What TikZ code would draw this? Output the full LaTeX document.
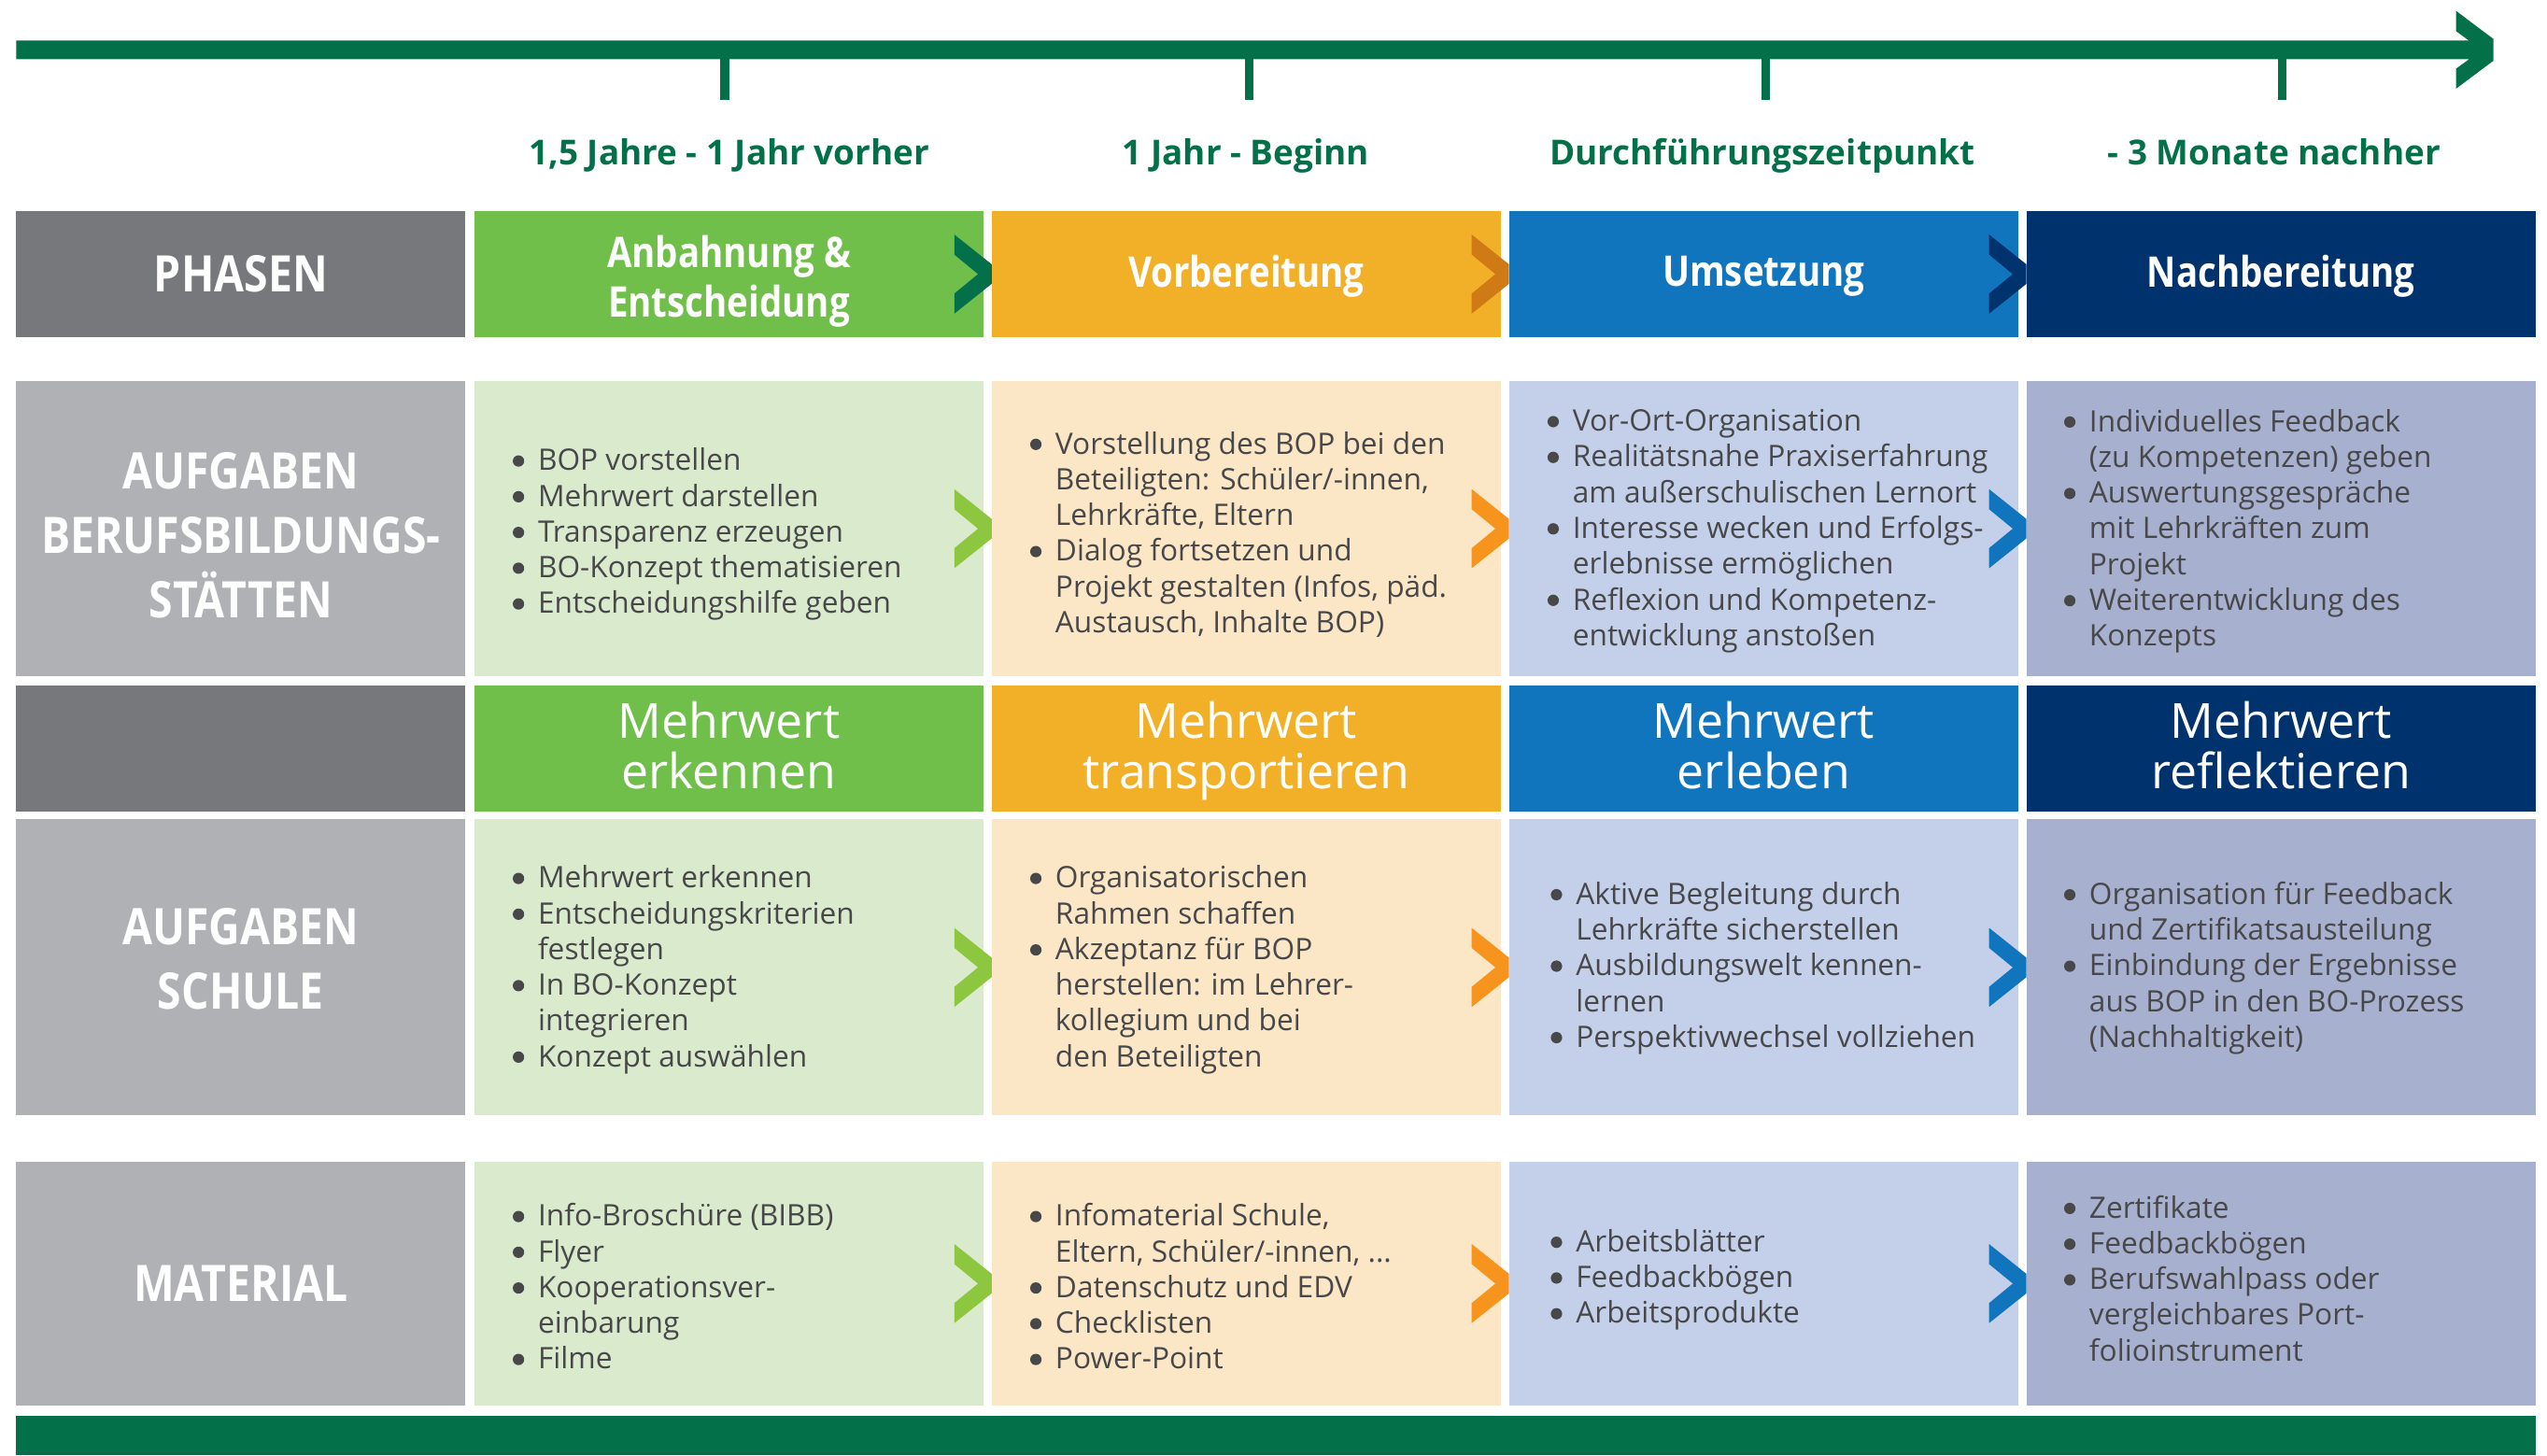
\documentclass[tikz,border=0pt]{standalone}
\usepackage{fontspec}
\setmainfont{Open Sans}
\newfontfamily\condf{Open Sans}[FakeStretch=0.86]
\newfontfamily\phasef{Open Sans}[FakeStretch=0.85]
\definecolor{tlgreen}{HTML}{04704A}
\definecolor{dgray}{HTML}{77787B}
\definecolor{lgray}{HTML}{B0B1B5}
\definecolor{cgreen}{HTML}{70BF4B}
\definecolor{lgreen}{HTML}{DAEACD}
\definecolor{corange}{HTML}{F2B028}
\definecolor{lorange}{HTML}{FBE7C6}
\definecolor{cblue}{HTML}{1175BD}
\definecolor{lblue}{HTML}{C4D0EA}
\definecolor{cnavy}{HTML}{00336D}
\definecolor{lnavy}{HTML}{A7B0CE}
\definecolor{chdorange}{HTML}{D07A15}
\definecolor{chgreen}{HTML}{8DC63F}
\definecolor{chorange}{HTML}{F7941D}
\definecolor{txtgray}{HTML}{48484B}
\newcommand{\bu}{\makebox[13pt][l]{\hspace*{-2.5pt}\raisebox{2.4pt}{\tikz\fill[txtgray] (0pt,0pt) circle[radius=3.5pt];}}}
\newcommand{\ci}{\hspace*{13pt}}
\tikzset{
  box/.style={draw=none, inner sep=0pt, outer sep=0pt, minimum width=313.5pt},
  lbox/.style={draw=none, inner sep=0pt, outer sep=0pt, minimum width=276.5pt},
  lbl/.style={text=white, font=\condf\bfseries\fontsize{31}{39.5}\selectfont, align=center},
  phase/.style={text=white, font=\phasef\bfseries\fontsize{26}{30.5}\selectfont, align=center},
  mw/.style={text=white, font=\fontsize{29.8}{31}\selectfont, align=center},
  body/.style={text=txtgray, font=\fontsize{18.2}{22}\selectfont, align=left, anchor=west, inner sep=0pt},
  tl/.style={text=tlgreen, font=\bfseries\fontsize{21.2}{24}\selectfont, inner sep=0pt, anchor=base},
  chev/.pic={\path[pic actions] (0,-24.35) -- (23,-6) -- (23,6) -- (0,24.35) -- (0,12) -- (14.6,0) -- (0,-12) -- cycle;}
}
\begin{document}
\begin{tikzpicture}[x=1pt,y=-1pt]
\useasboundingbox (0,0) rectangle (1568,896);
% timeline
\fill[tlgreen] (10,25) -- (1520,25) -- (1512,19.2) -- (1512,6.7) -- (1535,24) -- (1535,37.4) -- (1512,54.6) -- (1512,42.3) -- (1520,36.5) -- (10,36.5) -- cycle;
\foreach \tx in {446,769,1087,1405} \fill[tlgreen] (\tx-2.8,36) rectangle (\tx+2.8,61.7);
\node[tl] (t1) at (449,101.5) {1,5 Jahre - 1 Jahr vorher};
\node[tl] (t2) at (767,101.5) {1 Jahr - Beginn};
\node[tl] (t3) at (1085,101.5) {Durchführungszeitpunkt};
\node[tl] (t4) at (1400,101.5) {- 3 Monate nachher};
% row 0: phases
\node[lbox, fill=dgray, minimum height=77.5pt] (p0) at (148.25,168.75) {};
\node[lbl] (p0t) at (148.25,168.75) {PHASEN};
\node[box, fill=cgreen, minimum height=77.5pt] (p1) at (448.75,168.75) {};
\node[phase] (p1t) at (448.75,173) {Anbahnung \&\\Entscheidung};
\node[box, fill=corange, minimum height=77.5pt] (p2) at (767.25,168.75) {};
\node[phase] (p2t) at (767.25,170) {Vorbereitung};
\node[box, fill=cblue, minimum height=77.5pt] (p3) at (1085.75,168.75) {};
\node[phase] (p3t) at (1085.75,170) {Umsetzung};
\node[box, fill=cnavy, minimum height=77.5pt] (p4) at (1404.25,168.75) {};
\node[phase] (p4t) at (1404.25,170) {Nachbereitung};
% row 1
\node[lbox, fill=lgray, minimum height=182pt] (a0) at (148.25,325.5) {};
\node[lbl] (a0t) at (148.25,329.5) {AUFGABEN\\BERUFSBILDUNGS-\\STÄTTEN};
\node[box, fill=lgreen, minimum height=182pt] (a1) at (448.75,325.5) {};
\node[box, fill=lorange, minimum height=182pt] (a2) at (767.25,325.5) {};
\node[box, fill=lblue, minimum height=182pt] (a3) at (1085.75,325.5) {};
\node[box, fill=lnavy, minimum height=182pt] (a4) at (1404.25,325.5) {};
% row 2
\node[lbox, fill=dgray, minimum height=77.5pt] (m0) at (148.25,460.75) {};
\node[box, fill=cgreen, minimum height=77.5pt] (m1) at (448.75,460.75) {};
\node[box, fill=corange, minimum height=77.5pt] (m2) at (767.25,460.75) {};
\node[box, fill=cblue, minimum height=77.5pt] (m3) at (1085.75,460.75) {};
\node[box, fill=cnavy, minimum height=77.5pt] (m4) at (1404.25,460.75) {};
\node[mw] (m1t) at (448.75,462.5) {Mehrwert\\erkennen\vphantom{p}};
\node[mw] (m2t) at (767.25,462.5) {Mehrwert\\transportieren};
\node[mw] (m3t) at (1085.75,462.5) {Mehrwert\\erleben\vphantom{p}};
\node[mw] (m4t) at (1404.25,462.5) {Mehrwert\\reflektieren\vphantom{p}};
% row 3
\node[lbox, fill=lgray, minimum height=182.2pt] (s0) at (148.25,595.6) {};
\node[lbl] (s0t) at (148.25,590.5) {AUFGABEN\\SCHULE};
\node[box, fill=lgreen, minimum height=182.2pt] (s1) at (448.75,595.6) {};
\node[box, fill=lorange, minimum height=182.2pt] (s2) at (767.25,595.6) {};
\node[box, fill=lblue, minimum height=182.2pt] (s3) at (1085.75,595.6) {};
\node[box, fill=lnavy, minimum height=182.2pt] (s4) at (1404.25,595.6) {};
% row 4
\node[lbox, fill=lgray, minimum height=150.5pt] (x0) at (148.25,790.25) {};
\node[lbl] (x0t) at (148.25,790.25) {MATERIAL};
\node[box, fill=lgreen, minimum height=150.5pt] (x1) at (448.75,790.25) {};
\node[box, fill=lorange, minimum height=150.5pt] (x2) at (767.25,790.25) {};
\node[box, fill=lblue, minimum height=150.5pt] (x3) at (1085.75,790.25) {};
\node[box, fill=lnavy, minimum height=150.5pt] (x4) at (1404.25,790.25) {};
% bottom bar
\fill[tlgreen] (10,871.7) rectangle (1561,896);
% chevrons
\pic[fill=tlgreen] at (587.5,168.75) {chev};
\pic[fill=chdorange] at (906,168.75) {chev};
\pic[fill=cnavy] at (1224.5,168.75) {chev};
\foreach \cy in {325.5,595.6,790.25} {
  \pic[fill=chgreen] at (587.5,\cy) {chev};
  \pic[fill=chorange] at (906,\cy) {chev};
  \pic[fill=cblue] at (1224.5,\cy) {chev};
}
% texts row 1
\node[body] (ta1) at (318,329) {\bu BOP vorstellen\\\bu Mehrwert darstellen\\\bu Transparenz erzeugen\\\bu BO-Konzept thematisieren\\\bu Entscheidungshilfe geben};
\node[body] (ta2) at (636.5,329) {\bu Vorstellung des BOP bei den\\\ci Beteiligten: Schüler/-innen,\\\ci Lehrkräfte, Eltern\\\bu Dialog fortsetzen und\\\ci Projekt gestalten (Infos, päd.\\\ci Austausch, Inhalte BOP)};
\node[body] (ta3) at (955,327) {\bu Vor-Ort-Organisation\\\bu Realitätsnahe Praxiserfahrung\\\ci am außerschulischen Lernort\\\bu Interesse wecken und Erfolgs-\\\ci erlebnisse ermöglichen\\\bu Reflexion und Kompetenz-\\\ci entwicklung anstoßen};
\node[body] (ta4) at (1273,327) {\bu Individuelles Feedback\\\ci (zu Kompetenzen) geben\\\bu Auswertungsgespräche\\\ci mit Lehrkräften zum\\\ci Projekt\\\bu Weiterentwicklung des\\\ci Konzepts};
% texts row 3
\node[body] (ts1) at (318,597) {\bu Mehrwert erkennen\\\bu Entscheidungskriterien\\\ci festlegen\\\bu In BO-Konzept\\\ci integrieren\\\bu Konzept auswählen};
\node[body] (ts2) at (636.5,597) {\bu Organisatorischen\\\ci Rahmen schaffen\\\bu Akzeptanz für BOP\\\ci herstellen: im Lehrer-\\\ci kollegium und bei\\\ci den Beteiligten};
\node[body] (ts3) at (957,596) {\bu Aktive Begleitung durch\\\ci Lehrkräfte sicherstellen\\\bu Ausbildungswelt kennen-\\\ci lernen\\\bu Perspektivwechsel vollziehen};
\node[body] (ts4) at (1273,596) {\bu Organisation für Feedback\\\ci und Zertifikatsausteilung\\\bu Einbindung der Ergebnisse\\\ci aus BOP in den BO-Prozess\\\ci (Nachhaltigkeit)};
% texts row 4
\node[body] (tx1) at (318,792) {\bu Info-Broschüre (BIBB)\\\bu Flyer\\\bu Kooperationsver-\\\ci einbarung\\\bu Filme};
\node[body] (tx2) at (636.5,792) {\bu Infomaterial Schule,\\\ci Eltern, Schüler/-innen, ...\\\bu Datenschutz und EDV\\\bu Checklisten\\\bu Power-Point};
\node[body] (tx3) at (957,788) {\bu Arbeitsblätter\\\bu Feedbackbögen\\\bu Arbeitsprodukte};
\node[body] (tx4) at (1273,787) {\bu Zertifikate\\\bu Feedbackbögen\\\bu Berufswahlpass oder\\\ci vergleichbares Port-\\\ci folioinstrument};
\end{tikzpicture}
\end{document}
